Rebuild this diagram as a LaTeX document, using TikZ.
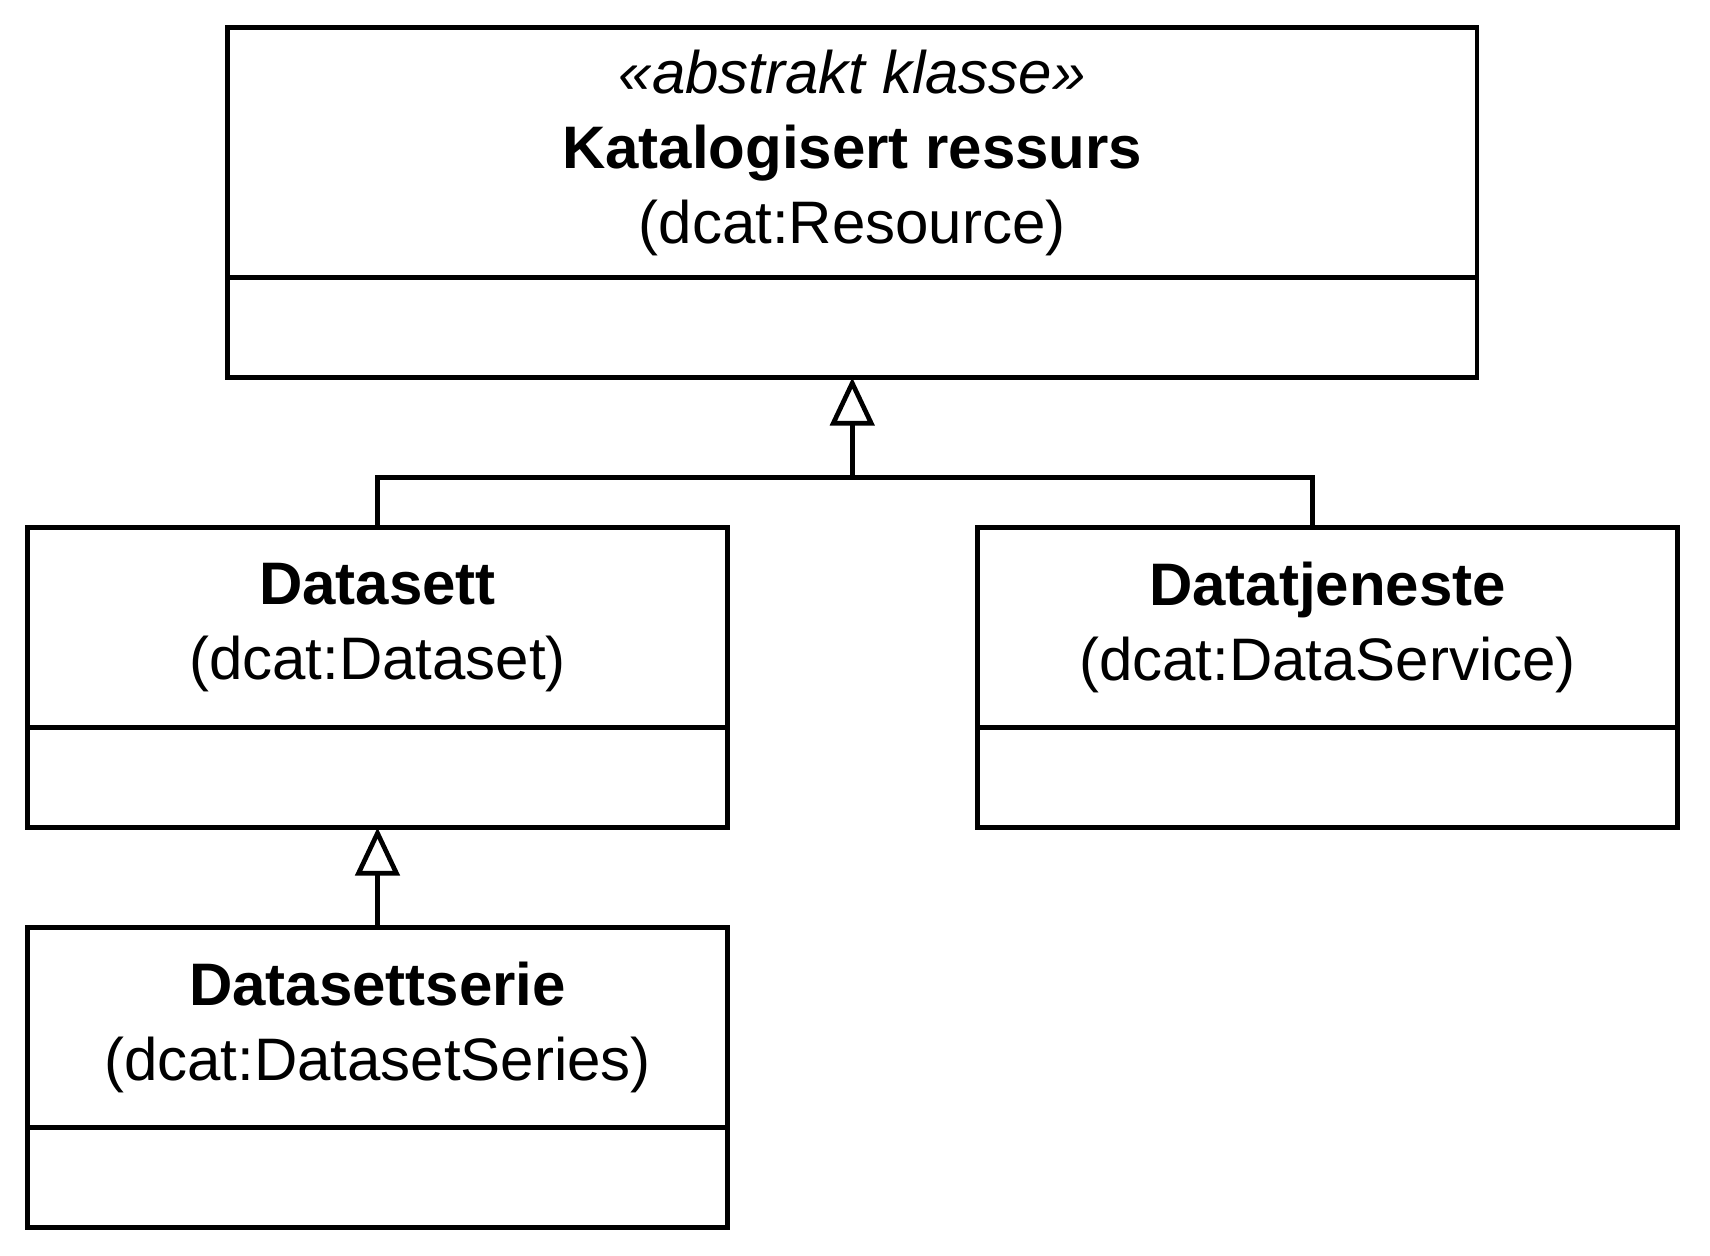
\documentclass[tikz,border=0pt]{standalone}
\usepackage{fontspec}
\setmainfont{Liberation Sans}
\usetikzlibrary{positioning}
\usetikzlibrary{arrows.meta}

\begin{document}
\begin{tikzpicture}[klasse/.style={rectangle, draw=black, line width=2.35pt, outer sep=0pt, inner sep=0pt, align=center, font=\fontsize{30}{37.5}\selectfont},
    attr/.style={rectangle, draw=black, line width=2.35pt, outer sep=0pt, minimum height=50pt},
    arv/.style={-{Triangle[open, length=24pt, width=22pt]}, line width=2.35pt},
    kant/.style={line width=2.35pt}]
            \useasboundingbox (0,0) rectangle (855pt,-627.5pt);

            \node[klasse, minimum width=624.75pt, minimum height=125pt] (resurs_navn) at (426.125pt,-76.25pt) {\textit{«abstrakt klasse»}\\\textbf{Katalogisert ressurs}\\(dcat:Resource)};
            \node[attr, minimum width=624.75pt, below = 0pt of resurs_navn] (resurs_attr) {};

            \node[klasse, minimum width=350pt, minimum height=100pt] (datasett_navn) at (188.75pt,-313.75pt) {\textbf{Datasett}\\(dcat:Dataset)};
            \node[attr, minimum width=350pt, below = 0pt of datasett_navn] (datasett_attr) {};

            \node[klasse, minimum width=350pt, minimum height=100pt, right = 125pt of datasett_navn] (tjeneste_navn) {\textbf{Datatjeneste}\\(dcat:DataService)};
            \node[attr, minimum width=350pt, below = 0pt of tjeneste_navn] (tjeneste_attr) {};

            \node[klasse, minimum width=350pt, minimum height=100pt, below = 50pt of datasett_attr] (serie_navn) {\textbf{Datasettserie}\\(dcat:DatasetSeries)};
            \node[attr, minimum width=350pt, below = 0pt of serie_navn] (serie_attr) {};

            \coordinate (fork) at (resurs_attr.south |- 0pt,-238.75pt);
            \coordinate (tjeneste_inn) at ([xshift=-7.5pt]tjeneste_navn.north);

            \draw[kant] (datasett_navn.north) |- (fork) -| (tjeneste_inn);
            \draw[arv] (fork) -- (resurs_attr.south);
            \draw[arv] (serie_navn.north) -- (datasett_attr.south);
        \end{tikzpicture}
\end{document}
